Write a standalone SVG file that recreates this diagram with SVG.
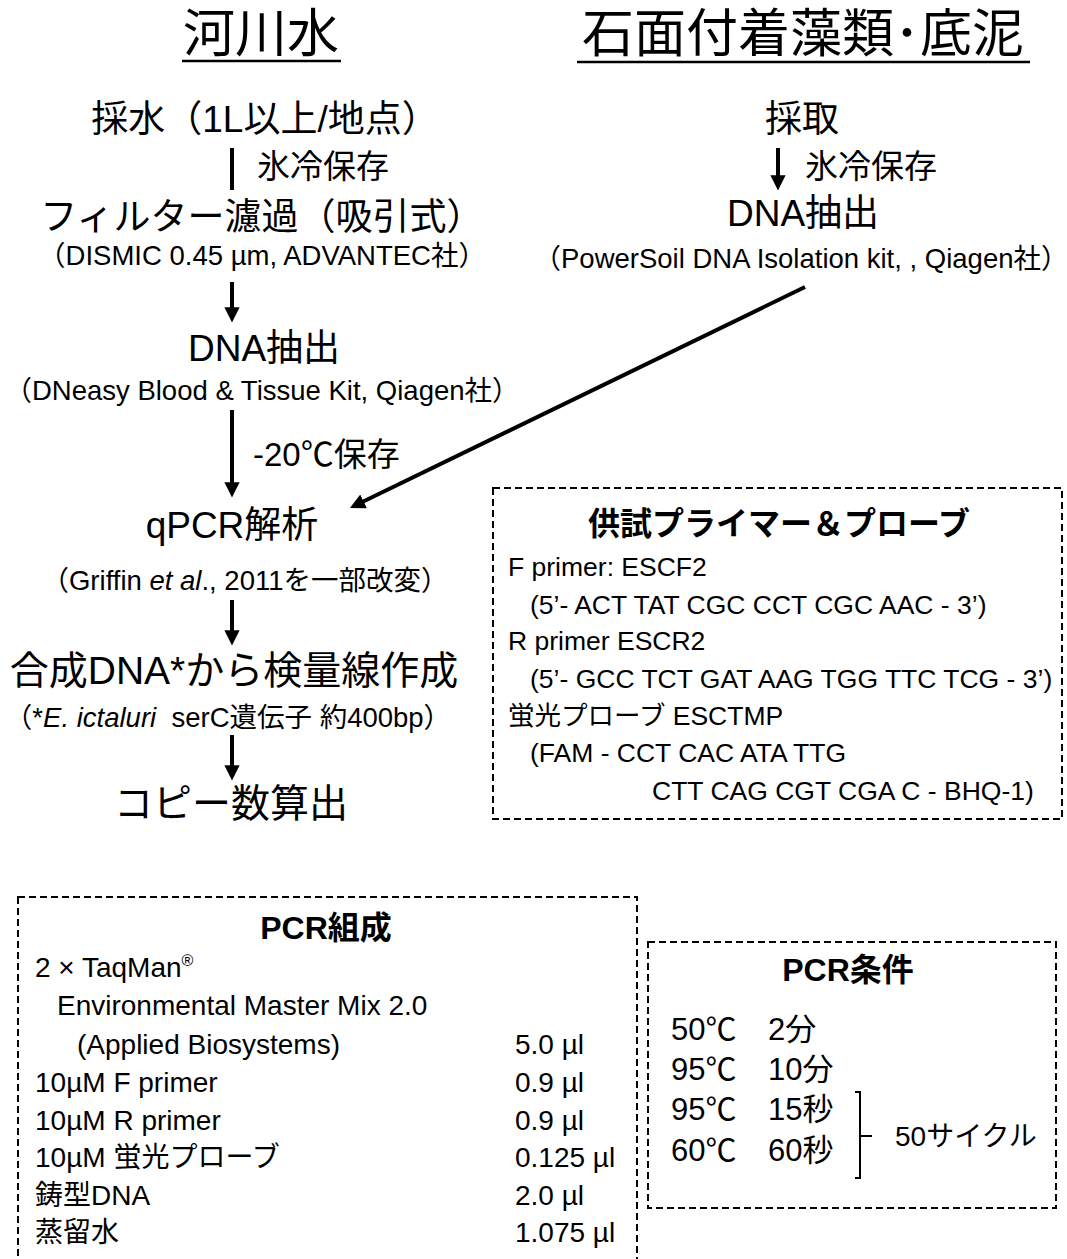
<svg xmlns="http://www.w3.org/2000/svg" width="1067" height="1259" viewBox="0 0 1067 1259">
<style>
text{font-family:"Liberation Sans","Noto Sans CJK JP",sans-serif;fill:#000}
.ttl{font-size:52px}
.step{font-size:37px;text-anchor:middle}
.big{font-size:39px;text-anchor:middle}
.sub{font-size:27.5px;text-anchor:middle}
.lbl{font-size:33px}
.bx1{font-size:26.5px}
.bx{font-size:28px}
.bh{font-size:32px;font-weight:bold;text-anchor:middle}
.tc{font-size:31px}
.dash{fill:none;stroke:#000;stroke-width:2;stroke-dasharray:7 4}
.conn{stroke:#000;stroke-width:4;fill:none}
</style>
<defs>
<marker id="ah" viewBox="0 0 10 10" refX="7" refY="5" markerWidth="3.8" markerHeight="3.8" orient="auto" markerUnits="strokeWidth">
<path d="M0,0 L10,5 L0,10 z" fill="#000"/>
</marker>
</defs>
<rect width="1067" height="1259" fill="#fff"/>

<g id="title-river">
<text class="ttl" x="261" y="52" text-anchor="middle">河川水</text>
<line x1="182" y1="61" x2="341" y2="61" stroke="#000" stroke-width="2.5"/>
</g>
<g id="title-stone">
<text class="ttl" x="803" y="52" text-anchor="middle">石面付着藻類･底泥</text>
<line x1="577" y1="62" x2="1030" y2="62" stroke="#000" stroke-width="2.5"/>
</g>

<g id="n-saisui"><text class="step" x="265" y="132">採水（1L以上/地点）</text></g>
<g id="n-filter">
<text class="step" x="262" y="230">フィルター濾過（吸引式）</text>
<text class="sub" x="262" y="265">（DISMIC 0.45 µm, ADVANTEC社）</text>
</g>
<g id="n-dna-left">
<text class="step" x="264" y="361">DNA抽出</text>
<text class="sub" x="262" y="400">（DNeasy Blood &amp; Tissue Kit, Qiagen社）</text>
</g>
<g id="n-qpcr">
<text class="step" x="232" y="538">qPCR解析</text>
<text class="sub" x="245" y="590">（Griffin <tspan font-style="italic">et al</tspan>., 2011を一部改変）</text>
</g>
<g id="n-standard">
<text class="big" x="234" y="684">合成DNA*から検量線作成</text>
<text class="sub" x="228" y="727" xml:space="preserve">（*<tspan font-style="italic">E. ictaluri</tspan>  serC遺伝子 約400bp）</text>
</g>
<g id="n-copy"><text class="big" x="231" y="817">コピー数算出</text></g>

<g id="n-saishu"><text class="step" x="802" y="132">採取</text></g>
<g id="n-dna-right">
<text class="step" x="803" y="226">DNA抽出</text>
<text class="sub" x="801" y="268">（PowerSoil DNA Isolation kit, , Qiagen社）</text>
</g>

<g id="edge-labels">
<text class="lbl" x="257" y="178">氷冷保存</text>
<text class="lbl" x="253" y="466">-20℃保存</text>
<text class="lbl" x="805" y="178">氷冷保存</text>
</g>

<g id="connectors">
<line class="conn" x1="232" y1="148" x2="232" y2="190"/>
<line class="conn" x1="232" y1="282" x2="232" y2="318" marker-end="url(#ah)"/>
<line class="conn" x1="232" y1="410" x2="232" y2="493" marker-end="url(#ah)"/>
<line class="conn" x1="232" y1="600" x2="232" y2="641" marker-end="url(#ah)"/>
<line class="conn" x1="232" y1="735" x2="232" y2="776" marker-end="url(#ah)"/>
<line class="conn" x1="778" y1="148" x2="778" y2="186" marker-end="url(#ah)"/>
<line class="conn" x1="805" y1="287" x2="354" y2="506" marker-end="url(#ah)"/>
</g>

<g id="box-primers">
<rect class="dash" x="493" y="488" width="569" height="331"/>
<text class="bh" x="779" y="535">供試プライマー＆プローブ</text>
<text class="bx1" x="508" y="576">F primer: ESCF2</text>
<text class="bx1" x="530" y="614">(5’- ACT TAT CGC CCT CGC AAC - 3’)</text>
<text class="bx1" x="508" y="650">R primer ESCR2</text>
<text class="bx1" x="530" y="688">(5’- GCC TCT GAT AAG TGG TTC TCG - 3’)</text>
<text class="bx1" x="508" y="725">蛍光プローブ ESCTMP</text>
<text class="bx1" x="530" y="762">(FAM - CCT CAC ATA TTG</text>
<text class="bx1" x="652" y="800">CTT CAG CGT CGA C - BHQ-1)</text>
</g>

<g id="box-composition">
<rect class="dash" x="18" y="897" width="619" height="380"/>
<text class="bh" x="326" y="939">PCR組成</text>
<text class="bx" x="35" y="977">2 × TaqMan<tspan font-size="16" dy="-11">®</tspan></text>
<text class="bx" x="57" y="1015">Environmental Master Mix 2.0</text>
<text class="bx" x="77" y="1054">(Applied Biosystems)</text>
<text class="bx" x="515" y="1054">5.0 µl</text>
<text class="bx" x="35" y="1092">10µM F primer</text>
<text class="bx" x="515" y="1092">0.9 µl</text>
<text class="bx" x="35" y="1130">10µM R primer</text>
<text class="bx" x="515" y="1130">0.9 µl</text>
<text class="bx" x="35" y="1167">10µM 蛍光プローブ</text>
<text class="bx" x="515" y="1167">0.125 µl</text>
<text class="bx" x="35" y="1205">鋳型DNA</text>
<text class="bx" x="515" y="1205">2.0 µl</text>
<text class="bx" x="35" y="1242">蒸留水</text>
<text class="bx" x="515" y="1242">1.075 µl</text>
</g>

<g id="box-conditions">
<rect class="dash" x="648" y="942" width="408" height="266"/>
<text class="bh" x="848" y="981">PCR条件</text>
<text class="tc" x="671" y="1040">50℃</text><text class="tc" x="768" y="1040">2分</text>
<text class="tc" x="671" y="1080">95℃</text><text class="tc" x="768" y="1080">10分</text>
<text class="tc" x="671" y="1120">95℃</text><text class="tc" x="768" y="1120">15秒</text>
<text class="tc" x="671" y="1161">60℃</text><text class="tc" x="768" y="1161">60秒</text>
<path d="M855 1092 H860 V1178 H855 M860 1136 H872" fill="none" stroke="#000" stroke-width="2"/>
<text class="bx" x="895" y="1146">50サイクル</text>
</g>
</svg>
